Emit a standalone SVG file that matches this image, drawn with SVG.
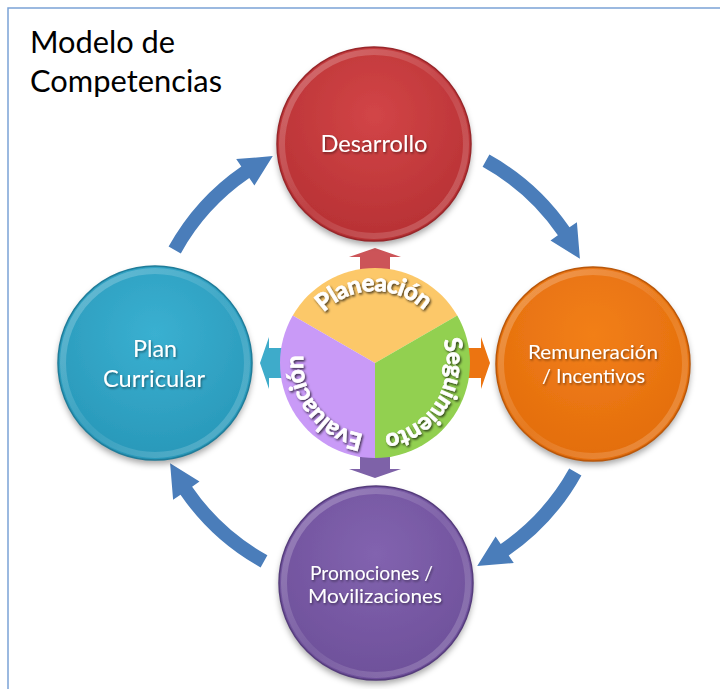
<svg xmlns="http://www.w3.org/2000/svg" width="720" height="689" viewBox="0 0 720 689">
<defs>
<style>
.lbl{font-family:Lato,"Open Sans","Liberation Sans",sans-serif;fill:#fff;text-anchor:middle}
.pie{font-family:Lato,"Open Sans","Liberation Sans",sans-serif;font-weight:bold;font-size:24px;fill:#fff;stroke:#fff;stroke-width:0.7}
.title{font-family:Lato,"Open Sans","Liberation Sans",sans-serif;font-size:30px;fill:#000}
.bigarrow{fill:#4A7DBA}
.edge{fill:none;stroke-width:1.5}
.rimc{fill:none;stroke:url(#rim);stroke-width:6}
</style>
<radialGradient id="gRed" cx="50%" cy="35%" r="65%"><stop offset="0" stop-color="#D24547"/><stop offset="1" stop-color="#B73134"/></radialGradient>
<radialGradient id="gCyan" cx="50%" cy="35%" r="65%"><stop offset="0" stop-color="#3AB0D1"/><stop offset="1" stop-color="#2998B9"/></radialGradient>
<radialGradient id="gOrange" cx="50%" cy="35%" r="65%"><stop offset="0" stop-color="#F27F19"/><stop offset="1" stop-color="#E36D0C"/></radialGradient>
<radialGradient id="gPurple" cx="50%" cy="35%" r="65%"><stop offset="0" stop-color="#8263AF"/><stop offset="1" stop-color="#6E509A"/></radialGradient>
<linearGradient id="rim" x1="0" y1="0" x2="1" y2="1"><stop offset="0" stop-color="#fff" stop-opacity="0.28"/><stop offset="0.5" stop-color="#fff" stop-opacity="0.08"/><stop offset="1" stop-color="#fff" stop-opacity="0.22"/></linearGradient>
<filter id="sh" x="-20%" y="-20%" width="140%" height="150%"><feDropShadow dx="0" dy="4" stdDeviation="3" flood-color="#000" flood-opacity="0.35"/></filter>
<filter id="ts" x="-10%" y="-30%" width="120%" height="160%"><feDropShadow dx="1" dy="1.5" stdDeviation="0.8" flood-color="#000" flood-opacity="0.45"/></filter>
<filter id="pts" x="-20%" y="-20%" width="140%" height="140%"><feDropShadow dx="1.3" dy="1.6" stdDeviation="1.1" flood-color="#000" flood-opacity="0.7"/></filter>
<path id="tp" d="M 375 435 A 72 72 0 1 1 375 291 A 72 72 0 1 1 375 435"/>
<path id="ba" d="M 581.4 475.4 A 236 236 0 0 1 508.7 555.5 L 513.8 562.9 L 477.2 565.9 L 495.6 536.5 L 500.7 543.9 A 222 222 0 0 0 569.2 468.6 Z"/>
<path id="sa" d="M -15 -88 L -15 -106 L -26 -106 L 0 -115 L 26 -106 L 15 -106 L 15 -88 Z"/>
</defs>
<rect x="0" y="0" width="720" height="689" fill="#fff"/>
<rect x="8" y="8" width="730" height="700" fill="none" stroke="#7BA3D6" stroke-width="1.5"/>

<g id="title">
<text class="title" x="30" y="53" textLength="145" lengthAdjust="spacingAndGlyphs">Modelo de</text>
<text class="title" x="30" y="92" textLength="192" lengthAdjust="spacingAndGlyphs">Competencias</text>
</g>

<g id="connectors">
<use href="#ba" class="bigarrow"/>
<use href="#ba" class="bigarrow" transform="rotate(90 375 361)"/>
<use href="#ba" class="bigarrow" transform="rotate(180 375 361)"/>
<use href="#ba" class="bigarrow" transform="rotate(270 375 361)"/>
<use href="#sa" fill="#CC5458" transform="translate(375 363)"/>
<use href="#sa" fill="#EC7411" transform="translate(375 363) rotate(90)"/>
<use href="#sa" fill="#7E62A8" transform="translate(375 363) rotate(180)"/>
<use href="#sa" fill="#3EABCA" transform="translate(375 363) rotate(270)"/>
</g>

<g id="desarrollo">
<g filter="url(#sh)"><circle cx="374" cy="144" r="97" fill="url(#gRed)"/></g>
<circle class="rimc" cx="374" cy="144" r="92"/>
<circle class="edge" cx="374" cy="144" r="97" stroke="#98262A"/>
<text class="lbl" x="374" y="152" font-size="24" textLength="107" lengthAdjust="spacingAndGlyphs" filter="url(#ts)">Desarrollo</text>
</g>

<g id="plan-curricular">
<g filter="url(#sh)"><circle cx="155" cy="363" r="97" fill="url(#gCyan)"/></g>
<circle class="rimc" cx="155" cy="363" r="92"/>
<circle class="edge" cx="155" cy="363" r="97" stroke="#1F7C99"/>
<text class="lbl" font-size="24" filter="url(#ts)"><tspan x="155" y="357" textLength="44" lengthAdjust="spacingAndGlyphs">Plan</tspan><tspan x="154" y="387" textLength="102" lengthAdjust="spacingAndGlyphs">Curricular</tspan></text>
</g>

<g id="remuneracion">
<g filter="url(#sh)"><circle cx="593" cy="364" r="97" fill="url(#gOrange)"/></g>
<circle class="rimc" cx="593" cy="364" r="92"/>
<circle class="edge" cx="593" cy="364" r="97" stroke="#B9570A"/>
<text class="lbl" font-size="19" filter="url(#ts)"><tspan x="593" y="359" textLength="130" lengthAdjust="spacingAndGlyphs">Remuneración</tspan><tspan x="593.5" y="383" textLength="103" lengthAdjust="spacingAndGlyphs">/ Incentivos</tspan></text>
</g>

<g id="promociones">
<g filter="url(#sh)"><circle cx="376" cy="583" r="97" fill="url(#gPurple)"/></g>
<circle class="rimc" cx="376" cy="583" r="92"/>
<circle class="edge" cx="376" cy="583" r="97" stroke="#553C7C"/>
<text class="lbl" font-size="19" filter="url(#ts)"><tspan x="371.5" y="580" textLength="123" lengthAdjust="spacingAndGlyphs">Promociones /</tspan><tspan x="375" y="603" textLength="134" lengthAdjust="spacingAndGlyphs">Movilizaciones</tspan></text>
</g>

<g id="centro">
<g id="planeacion">
<path d="M 375 363 L 292.73 315.5 A 95 95 0 0 1 457.27 315.5 Z" fill="#FCC869"/>
<text class="pie" filter="url(#pts)"><textPath href="#tp" startOffset="224.3" text-anchor="middle" textLength="111" lengthAdjust="spacing">Planeación</textPath></text>
</g>
<g id="seguimiento">
<path d="M 375 363 L 457.27 315.5 A 95 95 0 0 1 375 458 Z" fill="#92D050"/>
<text class="pie" filter="url(#pts)"><textPath href="#tp" startOffset="378.9" text-anchor="middle" textLength="127" lengthAdjust="spacing">Seguimiento</textPath></text>
</g>
<g id="evaluacion">
<path d="M 375 363 L 375 458 A 95 95 0 0 1 292.73 315.5 Z" fill="#C99AF7"/>
<text class="pie" filter="url(#pts)"><textPath href="#tp" startOffset="66" text-anchor="middle" textLength="109" lengthAdjust="spacing">Evaluación</textPath></text>
</g>
</g>
</svg>
